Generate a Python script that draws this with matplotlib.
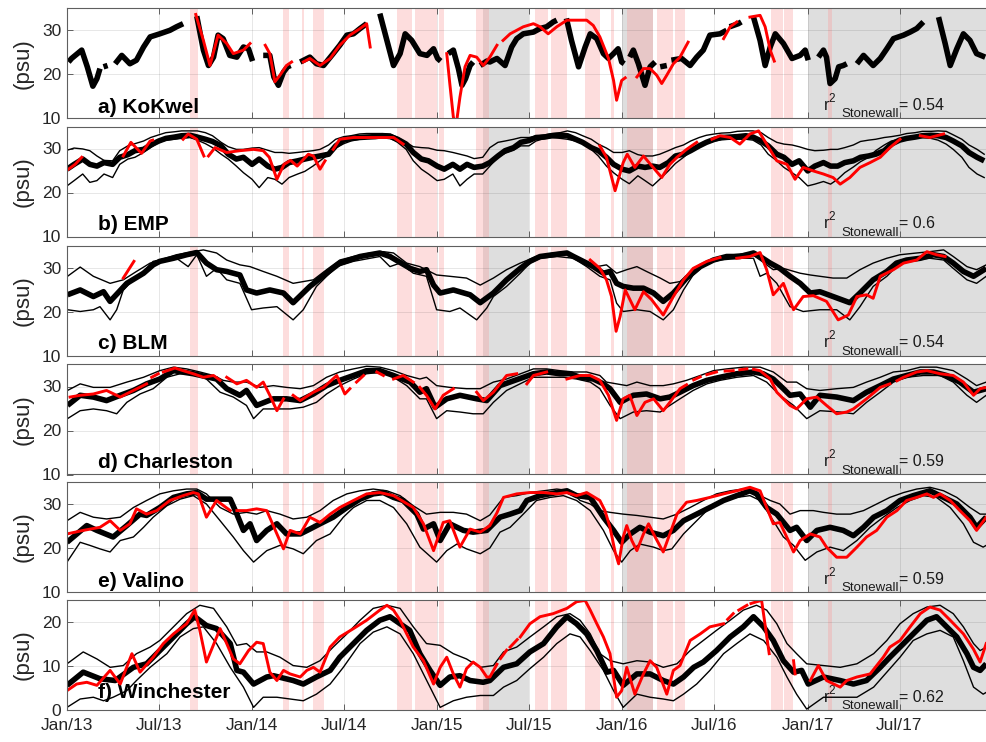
import numpy as np
import pandas as pd
import matplotlib
matplotlib.use("Agg")
import matplotlib.pyplot as plt

plt.rcParams['font.family'] = ['Liberation Sans', 'DejaVu Sans']

GAP = None
T0 = np.datetime64('2013-01-01')

# ---------------------------------------------------------------- shading
gray_periods = [('2015-04-01', '2015-07-01'), ('2016-01-01', '2016-03-01'),
                ('2017-01-01', '2018-01-01')]
pink_periods = [('2013-08-31', '2013-09-16'), ('2014-03-03', '2014-03-15'),
                ('2014-04-09', '2014-04-13'), ('2014-05-01', '2014-05-23'),
                ('2014-10-13', '2014-11-13'), ('2014-11-19', '2014-12-31'),
                ('2015-01-04', '2015-01-14'), ('2015-03-18', '2015-04-14'),
                ('2015-07-13', '2015-08-08'), ('2015-08-14', '2015-09-14'),
                ('2015-10-20', '2015-11-18'), ('2015-12-10', '2015-12-16'),
                ('2016-01-10', '2016-03-02'), ('2016-03-10', '2016-04-10'),
                ('2016-04-14', '2016-05-04'), ('2016-10-21', '2016-11-13'),
                ('2016-11-15', '2016-12-03'), ('2017-02-10', '2017-02-18')]

# ---------------------------------------------------------------- a) KoKwel  (day since 2013-01-01, psu)
kokwel_model = [
    (3, 22.8), (9, 23.6), (29, 25.5), (40, 21.7), (51, 17.3), (59, 19.0), (65, 21.3), GAP,
    (72, 21.7), (80, 22.0), GAP,
    (95, 22.4), (108, 24.3), (124, 22.4), (137, 23.2), (151, 26.2), (164, 28.5), (183, 29.2),
    (203, 30.0), (216, 30.8), (229, 31.5), GAP,
    (256, 33.2), (269, 25.5), (279, 22.0), (289, 23.9), (298, 28.9), (308, 28.1), (321, 24.3),
    (335, 23.9), (348, 26.2), (358, 25.8), (366, 23.0), GAP,
    (387, 24.3), (400, 24.3), (408, 19.4), (417, 17.5), (427, 20.5), (435, 21.7), (441, 22.0), GAP,
    (460, 22.8), (479, 23.9), (492, 22.4), (506, 22.0), (525, 24.7), (538, 26.6), (552, 28.9),
    (565, 29.2), (578, 30.4), (591, 31.5), GAP,
    (617, 33.8), (631, 27.7), (644, 22.0), (657, 24.7), (667, 29.2), (680, 27.7), (696, 24.7),
    (710, 24.3), (723, 25.8), (731, 23.6), (737, 23.0), GAP,
    (752, 24.7), (762, 25.5), (772, 21.3), (779, 17.5), (786, 19.0), (795, 22.0), (801, 22.8), GAP,
    (815, 22.0), (828, 23.0), (834, 22.8), (848, 23.6), (864, 22.0), (877, 26.2), (887, 28.1),
    (900, 29.2), (920, 29.6), (933, 30.4), (946, 30.8), (959, 31.9), (966, 32.3), GAP,
    (985, 32.7), (995, 27.7), (1009, 21.7), (1022, 26.2), (1032, 29.2), (1045, 28.1), (1058, 24.7),
    (1068, 23.6), (1078, 24.7), (1087, 25.8), (1094, 22.8), (1099, 22.4), GAP,
    (1110, 23.9), (1117, 25.5), (1127, 22.4), (1140, 17.5), (1150, 21.7), (1160, 22.8), GAP,
    (1170, 21.7), (1183, 22.0), GAP,
    (1192, 23.2), (1212, 23.6), (1229, 22.0), (1242, 23.9), (1255, 25.5), (1268, 28.9),
    (1288, 29.2), (1301, 30.0), GAP,
    (1307, 30.8), (1324, 31.5), (1330, 31.9), GAP,
    (1354, 33.0), (1367, 27.7), (1377, 22.0), (1387, 26.2), (1397, 29.2), (1413, 27.0),
    (1430, 23.6), (1446, 24.3), (1456, 25.5), (1462, 23.2), GAP,
    (1482, 23.9), (1492, 25.5), (1498, 23.9), (1505, 17.9), (1515, 19.0), (1522, 21.7),
    (1531, 22.0), (1538, 22.4), GAP,
    (1558, 22.4), (1571, 24.3), (1590, 22.0), (1604, 23.6), (1617, 25.8), (1630, 28.1),
    (1650, 28.9), (1663, 29.6), (1676, 30.4), (1689, 31.9), GAP,
    (1719, 33.0), (1732, 27.0), (1742, 22.0), (1755, 25.8), (1768, 29.2), (1781, 27.7),
    (1794, 24.7), (1811, 23.9)]
kokwel_obs = [
    (254, 33.6), (269, 27.7), (282, 22.0), (298, 28.9), (315, 27.0), (328, 24.7), (348, 25.5),
    (361, 27.0), GAP,
    (391, 26.6), (400, 24.7), (410, 18.3), (420, 19.8), (433, 22.0), (443, 22.8), GAP,
    (466, 22.8), (479, 23.6), (499, 22.0), (519, 23.6), (538, 26.6), (558, 28.9), (578, 30.4),
    (591, 31.5), (598, 26.2), GAP,
    (749, 24.7), (755, 17.9), (762, 10.3), (767, 8.0), (775, 14.8), (785, 21.7), (795, 24.3),
    (808, 23.9), (821, 22.0), (834, 23.9), (848, 26.6), GAP, (860, 27.7), (874, 29.2), (887, 30.0),
    (900, 30.8), (920, 31.5), (933, 30.8), (949, 29.2), (966, 30.8), (986, 32.3), (1005, 32.3),
    (1025, 32.3), (1038, 31.1), (1051, 28.5), (1068, 23.6), (1078, 18.6), (1084, 14.1),
    (1094, 18.6), (1101, 19.2), GAP,
    (1124, 19.4), (1137, 21.3), (1150, 21.3), (1163, 19.8), (1173, 17.9), (1183, 19.8),
    (1196, 22.4), (1209, 23.9), (1225, 27.3), GAP,
    (1295, 28.1), (1308, 30.8), (1321, 31.9), GAP,
    (1347, 33.0), (1367, 33.4), (1377, 30.8), (1387, 25.5), (1395, 23.0)]

# ---------------------------------------------------------------- b) EMP  (semi-monthly model output)
emp_mean = [
    25.3, 26.4, 27.6, 26.4, 26.0, 26.8, 26.4, 28.0, 28.6, 29.5, 29.8, 30.8,
    31.7, 32.3, 32.6, 32.9, 33.0, 32.6, 32.1, 31.6, 30.6, 28.7, 27.6, 28.0,
    26.4, 27.6, 26.0, 25.3, 25.7, 26.8, 27.2, 27.6, 28.0, 28.3, 28.7, 30.6,
    31.9, 32.3, 32.5, 32.6, 32.7, 32.9, 32.7, 32.1, 31.0, 29.1, 27.6, 27.2,
    26.0, 25.3, 26.4, 25.3, 26.4, 25.7, 26.0, 26.8, 28.3, 29.5, 30.2, 31.4,
    31.8, 32.5, 32.6, 32.9, 33.0, 32.9, 32.1, 31.4, 30.2, 29.5, 28.0, 26.4,
    25.3, 24.9, 26.0, 25.7, 26.0, 25.7, 26.8, 28.3, 28.7, 29.5, 30.6, 31.4,
    32.1, 32.5, 32.6, 32.7, 32.9, 32.6, 31.7, 30.6, 28.7, 28.0, 26.4, 27.2,
    24.9, 26.0, 26.8, 26.0, 26.0, 26.8, 27.2, 28.0, 28.3, 28.7, 29.5, 31.0,
    31.9, 32.3, 32.6, 32.9, 33.0, 32.9, 32.5, 31.7, 30.6, 29.1, 28.0, 27.2]
emp_upper = [
    29.6, 30.1, 29.9, 29.5, 28.3, 27.3, 27.2, 29.5, 30.6, 31.1, 31.7, 32.5,
    33.1, 33.6, 33.8, 34.0, 34.0, 34.0, 33.6, 32.9, 31.4, 30.4, 29.8, 29.8,
    30.1, 30.2, 29.6, 29.1, 29.1, 28.9, 29.1, 29.3, 29.5, 29.8, 30.8, 32.1,
    32.7, 32.9, 33.3, 33.4, 33.4, 33.4, 33.3, 32.5, 31.4, 30.4, 30.2, 30.1,
    29.6, 29.5, 29.1, 28.7, 28.3, 27.7, 28.0, 30.2, 31.4, 31.7, 32.1, 32.5,
    32.5, 32.8, 33.1, 33.4, 33.6, 34.0, 33.6, 32.9, 32.1, 31.0, 30.1, 29.1,
    29.1, 29.5, 28.6, 28.3, 28.3, 28.7, 29.5, 30.2, 30.8, 31.7, 32.5, 33.0,
    33.3, 33.5, 33.6, 33.9, 34.0, 34.0, 33.6, 32.5, 31.4, 31.0, 30.8, 30.4,
    29.8, 29.5, 29.6, 29.8, 29.8, 30.2, 30.8, 31.6, 31.9, 32.1, 32.5, 32.7,
    33.0, 33.4, 33.6, 33.9, 33.9, 34.0, 33.9, 33.1, 32.1, 30.8, 29.8, 28.7]
emp_lower = [
    21.5, 22.7, 24.2, 22.3, 22.7, 24.2, 23.4, 26.4, 27.6, 28.0, 29.1, 30.2,
    31.4, 31.9, 32.1, 32.3, 32.5, 31.9, 31.1, 30.2, 28.7, 27.6, 26.0, 24.5,
    23.0, 21.1, 23.4, 23.0, 21.9, 23.4, 24.2, 24.8, 26.0, 27.2, 28.7, 30.1,
    31.1, 31.7, 32.1, 32.3, 32.5, 32.5, 32.3, 31.4, 29.8, 27.2, 25.3, 24.2,
    22.7, 23.0, 24.2, 21.5, 23.0, 24.2, 24.2, 26.0, 28.1, 28.9, 29.6, 30.6,
    30.6, 31.7, 32.3, 32.5, 32.3, 32.1, 31.7, 31.1, 29.8, 28.3, 26.0, 24.5,
    23.0, 22.0, 23.8, 22.7, 21.5, 23.0, 24.9, 26.6, 28.0, 29.3, 30.4, 31.1,
    31.7, 32.0, 32.1, 32.1, 32.1, 31.9, 30.8, 28.7, 27.2, 25.7, 24.5, 23.4,
    21.5, 21.9, 22.5, 21.9, 23.0, 24.5, 25.8, 27.0, 28.0, 29.5, 30.8, 31.7,
    32.1, 32.3, 32.5, 32.5, 32.3, 31.9, 31.0, 29.8, 28.0, 25.7, 24.2, 23.4]
emp_obs = [
    (3, 25.3), (16, 26.4), (29, 28.0), GAP,
    (111, 28.3), (126, 31.4), (147, 28.9), (164, 31.7), (169, 31.9), GAP,
    (229, 32.1), (239, 33.3), (256, 32.1), (270, 28.3), GAP,
    (279, 28.3), (292, 30.2), (315, 29.1), (341, 29.5), (368, 29.8), (387, 29.5), (399, 28.0),
    (414, 23.0), (428, 26.4), (441, 27.3), (454, 26.0), (476, 28.7), (486, 28.3), (499, 25.3),
    (509, 27.2), GAP,
    (525, 29.8), (538, 32.1), (565, 32.5), (591, 32.5), (617, 32.5), (644, 32.5), (663, 31.0), GAP,
    (1051, 30.6), (1064, 28.0), (1081, 20.4), (1097, 26.8), (1105, 28.7), (1120, 25.7),
    (1137, 28.3), (1153, 26.1), (1173, 23.4), (1189, 26.4), (1203, 28.0), (1222, 29.8),
    (1242, 31.4), GAP,
    (1272, 32.1), (1288, 32.9), (1308, 32.5), (1327, 31.0), (1347, 33.3), (1364, 34.0),
    (1380, 31.0), (1400, 27.2), (1420, 26.4), (1436, 23.0), (1452, 25.7), (1472, 24.9),
    (1492, 24.2), (1511, 23.4), (1525, 21.9), (1544, 23.4), (1564, 25.7), (1584, 26.8),
    (1604, 28.0), (1623, 30.2), (1643, 32.1), GAP,
    (1683, 32.9), (1702, 32.5), (1729, 33.3)]

# ---------------------------------------------------------------- c) BLM
blm_mean = [
    (1, 23.8), (26, 24.9), (52, 23.4), (72, 24.5), (85, 22.3), (118, 26.4), (151, 28.7),
    (170, 30.6), (183, 31.4), (210, 32.1), (236, 32.9), (256, 33.4), (275, 31.0), (295, 29.5),
    (315, 29.1), (341, 28.3), (354, 24.9), (374, 24.2), (400, 24.9), (427, 24.2), (446, 22.0),
    (479, 25.7), (512, 28.7), (538, 31.0), (578, 32.5), (617, 33.3), (637, 32.5), (677, 29.8),
    (696, 29.1), (709, 29.5), (723, 26.0), (736, 24.2), (762, 24.9), (795, 23.8), (815, 22.0),
    (841, 24.2), (867, 27.2), (894, 29.8), (913, 31.4), (933, 32.5), (959, 32.9), (986, 33.3),
    (999, 32.5), (1018, 31.4), (1038, 30.2), (1058, 28.7), (1071, 29.1), (1084, 26.4),
    (1097, 25.7), (1117, 25.3), (1137, 25.3), (1157, 24.2), (1176, 22.3), (1196, 24.2),
    (1222, 27.6), (1249, 30.2), (1275, 31.7), (1301, 32.5), (1327, 32.5), (1354, 33.3),
    (1367, 32.5), (1387, 31.0), (1406, 29.8), (1426, 28.0), (1446, 26.4), (1466, 24.2),
    (1485, 24.5), (1511, 23.4), (1544, 22.0), (1564, 24.2), (1590, 27.2), (1617, 29.1),
    (1636, 31.0), (1656, 31.7), (1683, 32.1), (1709, 32.9), (1729, 32.5), (1748, 31.0),
    (1768, 29.1), (1788, 28.0), (1813, 29.8)]
blm_upper = [
    (1, 28.0), (26, 30.1), (52, 28.0), (85, 26.4), (111, 27.2), (137, 29.1), (164, 31.0),
    (183, 31.7), (216, 32.9), (249, 33.6), (269, 34.0), (295, 33.3), (315, 31.7), (341, 30.6),
    (361, 30.2), (387, 29.1), (414, 28.0), (446, 26.4), (486, 27.2), (512, 29.5), (538, 31.7),
    (565, 32.5), (598, 33.3), (624, 33.6), (644, 33.3), (670, 31.0), (696, 30.2), (729, 28.3),
    (755, 28.0), (788, 27.6), (815, 26.0), (841, 27.6), (867, 29.5), (894, 31.0), (926, 32.5),
    (959, 33.3), (986, 33.6), (1005, 32.5), (1025, 31.4), (1045, 30.2), (1064, 30.6),
    (1084, 28.7), (1104, 29.5), (1124, 30.2), (1143, 29.1), (1170, 27.6), (1189, 26.4),
    (1209, 26.8), (1235, 29.5), (1262, 31.4), (1288, 32.1), (1314, 32.9), (1347, 33.3),
    (1367, 31.7), (1393, 29.5), (1413, 29.8), (1446, 28.7), (1466, 28.3), (1485, 28.0),
    (1511, 27.6), (1538, 27.6), (1564, 29.5), (1590, 31.0), (1617, 32.1), (1643, 32.9),
    (1676, 33.3), (1702, 33.6), (1729, 34.0), (1748, 32.5), (1775, 30.2), (1794, 29.5),
    (1813, 30.6)]
blm_lower = [
    (1, 20.4), (26, 20.0), (52, 20.4), (65, 21.1), (85, 18.1), (98, 20.4), (111, 24.9),
    (131, 27.2), (157, 29.8), (170, 31.4), (183, 31.7), (216, 32.1), (239, 30.2), (256, 32.9),
    (275, 28.0), (295, 29.8), (315, 27.2), (341, 26.4), (364, 20.4), (387, 20.8), (414, 21.1),
    (446, 18.1), (466, 20.4), (492, 25.7), (512, 28.0), (532, 30.2), (565, 31.4), (598, 32.1),
    (617, 32.5), (637, 30.2), (657, 31.0), (683, 28.7), (709, 28.0), (729, 20.4), (755, 20.0),
    (775, 20.8), (808, 18.1), (828, 20.8), (841, 23.4), (867, 25.7), (894, 28.7), (913, 31.0),
    (933, 32.1), (966, 32.5), (999, 32.1), (1025, 30.2), (1051, 28.0), (1071, 27.2),
    (1084, 21.9), (1097, 20.0), (1124, 20.4), (1150, 20.0), (1176, 18.1), (1196, 20.4),
    (1216, 24.9), (1235, 28.3), (1262, 31.0), (1288, 31.7), (1327, 32.1), (1354, 32.1),
    (1367, 28.0), (1380, 28.7), (1400, 26.4), (1426, 21.1), (1452, 20.0), (1485, 20.4),
    (1518, 20.4), (1544, 18.1), (1564, 21.1), (1590, 25.7), (1617, 28.0), (1643, 31.0),
    (1669, 31.7), (1702, 32.1), (1729, 31.7), (1748, 29.8), (1775, 27.2), (1794, 26.4),
    (1813, 28.0)]
blm_obs = [
    (111, 27.6), (132, 31.4), GAP,
    (1032, 31.7), (1051, 29.8), (1064, 27.2), (1074, 23.4), (1083, 15.5), (1091, 18.9),
    (1101, 24.9), (1120, 20.4), (1137, 24.5), (1153, 22.7), (1176, 19.2), (1196, 23.4),
    (1216, 27.2), (1235, 29.8), (1262, 31.4), (1288, 32.3), GAP,
    (1321, 32.1), (1347, 32.5), (1367, 33.4), (1380, 29.5), (1393, 23.8), (1413, 26.4),
    (1433, 20.4), (1452, 23.4), (1472, 23.6), (1498, 22.3), (1521, 18.1), (1541, 19.2),
    (1558, 23.4), (1577, 23.8), (1590, 23.0), (1604, 28.0), (1630, 29.5), (1650, 31.0),
    (1676, 31.7), (1696, 33.6), (1715, 32.9), (1732, 32.5)]

# ---------------------------------------------------------------- d) Charleston
charleston_mean = [
    (1, 25.7), (26, 28.0), (52, 27.6), (78, 26.8), (105, 28.0), (131, 29.1), (157, 30.6),
    (183, 31.7), (210, 33.6), (249, 32.9), (295, 31.7), (315, 29.5), (341, 28.0), (354, 29.1),
    (374, 25.7), (407, 27.2), (433, 27.2), (460, 26.8), (486, 28.3), (512, 30.2), (538, 31.4),
    (565, 32.5), (591, 33.6), (617, 33.6), (644, 32.5), (677, 31.0), (696, 28.7), (709, 29.5),
    (726, 25.3), (749, 27.2), (775, 28.0), (808, 27.2), (828, 26.8), (854, 30.2), (920, 32.9),
    (946, 33.3), (972, 32.9), (992, 32.9), (1012, 32.1), (1038, 31.7), (1058, 30.6),
    (1071, 29.5), (1091, 26.4), (1104, 27.2), (1117, 28.0), (1143, 28.3), (1170, 27.2),
    (1189, 27.6), (1209, 28.7), (1235, 30.2), (1262, 31.4), (1288, 32.1), (1321, 32.9),
    (1354, 33.3), (1373, 32.9), (1393, 31.7), (1413, 29.5), (1426, 28.0), (1446, 28.3),
    (1466, 25.3), (1485, 28.0), (1518, 27.6), (1551, 26.8), (1577, 28.7), (1604, 30.2),
    (1630, 31.7), (1656, 32.5), (1683, 33.3), (1709, 33.3), (1735, 32.5), (1761, 31.0),
    (1788, 28.7), (1813, 29.5)]
charleston_upper = [
    (1, 29.1), (26, 30.6), (52, 29.8), (85, 29.8), (118, 31.0), (151, 32.1), (183, 33.6),
    (210, 34.4), (236, 34.0), (262, 33.3), (289, 32.5), (308, 31.4), (328, 31.0), (354, 31.0),
    (381, 29.8), (407, 30.2), (433, 29.8), (460, 29.5), (486, 30.2), (512, 32.1), (538, 33.3),
    (565, 34.0), (591, 34.6), (617, 34.4), (644, 33.6), (670, 32.5), (696, 31.7), (709, 32.1),
    (729, 30.2), (755, 29.8), (788, 29.5), (815, 29.5), (841, 31.0), (867, 31.7), (920, 34.0),
    (946, 34.0), (972, 33.6), (999, 33.3), (1025, 33.3), (1051, 32.5), (1064, 31.0),
    (1084, 30.6), (1104, 30.2), (1124, 31.0), (1150, 30.2), (1176, 30.2), (1196, 30.6),
    (1222, 31.4), (1249, 32.5), (1275, 33.6), (1301, 34.0), (1334, 34.4), (1367, 34.4),
    (1393, 33.3), (1420, 31.0), (1439, 31.0), (1459, 29.5), (1485, 29.1), (1518, 29.5),
    (1551, 29.8), (1577, 31.0), (1604, 32.1), (1630, 33.3), (1656, 33.6), (1683, 34.4),
    (1715, 34.4), (1748, 33.6), (1775, 31.7), (1794, 30.2), (1813, 31.0)]
charleston_lower = [
    (1, 22.7), (26, 24.5), (52, 24.9), (78, 24.5), (98, 23.8), (118, 26.4), (144, 28.3),
    (170, 29.5), (197, 32.1), (223, 32.9), (249, 32.9), (275, 31.7), (302, 28.7), (328, 27.6),
    (354, 25.7), (368, 22.7), (387, 24.9), (414, 24.9), (440, 24.9), (466, 25.3), (492, 26.4),
    (512, 28.3), (538, 30.2), (565, 31.7), (591, 32.9), (624, 33.3), (644, 32.1), (670, 30.2),
    (696, 27.2), (709, 27.2), (729, 22.7), (749, 24.5), (775, 24.2), (801, 23.8), (821, 23.8),
    (841, 26.4), (867, 29.1), (920, 32.1), (946, 32.1), (979, 32.1), (1005, 31.7), (1032, 31.0),
    (1051, 29.5), (1071, 25.7), (1091, 22.7), (1117, 24.2), (1143, 24.5), (1170, 24.2),
    (1189, 25.7), (1209, 27.2), (1235, 29.1), (1262, 30.6), (1288, 31.4), (1321, 32.1),
    (1354, 32.5), (1380, 31.0), (1406, 28.0), (1433, 25.7), (1459, 22.7), (1485, 24.5),
    (1525, 24.2), (1551, 23.8), (1577, 26.4), (1604, 28.7), (1630, 31.0), (1656, 32.1),
    (1689, 32.5), (1722, 32.5), (1748, 31.0), (1775, 28.0), (1794, 26.4), (1813, 28.0)]
charleston_obs = [
    (6, 27.6), (26, 28.0), (52, 28.3), (78, 29.1), (105, 27.6), (131, 29.1), (157, 30.6), GAP,
    (167, 32.1), (180, 32.9), GAP,
    (190, 33.3), (213, 34.2), (229, 33.6), (249, 32.9), (269, 32.1), (289, 32.5), (302, 31.4), GAP,
    (315, 32.1), (335, 30.6), (354, 31.4), (374, 29.8), (387, 31.0), (400, 28.0), (414, 24.5),
    (427, 27.2), GAP,
    (446, 28.0), (460, 26.8), (486, 28.7), (506, 29.8), (532, 32.5), (548, 28.3), (558, 29.5), GAP,
    (571, 31.0), (585, 32.5), GAP,
    (611, 33.3), (624, 32.5), GAP,
    (644, 31.7), (663, 32.5), (683, 31.0), GAP,
    (696, 29.8), (709, 28.0), (726, 24.9), (742, 28.0), (762, 29.5), GAP,
    (808, 28.7), (821, 26.8), (841, 28.7), (867, 32.5), (887, 32.9), GAP,
    (907, 30.6), (920, 32.5), (946, 33.3), GAP,
    (986, 31.7), (1012, 32.5), (1032, 32.5), (1051, 31.4), (1068, 28.0), (1084, 22.3),
    (1097, 27.2), (1110, 28.0), (1124, 23.4), (1140, 26.4), (1157, 27.2), (1176, 24.5),
    (1189, 26.4), (1209, 29.5), (1222, 30.4), GAP,
    (1236, 31.5), (1249, 32.2), GAP,
    (1262, 32.7), (1281, 33.3), GAP,
    (1298, 33.5), (1314, 33.6), GAP,
    (1327, 33.8), (1341, 34.0), GAP,
    (1354, 33.9), (1367, 33.6), (1387, 31.7), (1400, 28.7), (1413, 27.2),
    (1426, 25.7), (1439, 24.9), (1459, 27.2), (1479, 27.6), (1498, 25.7), (1518, 23.8),
    (1538, 24.2), (1551, 24.9), (1577, 27.2), (1604, 29.8), (1623, 30.6), GAP,
    (1637, 31.3), (1650, 32.1), (1676, 33.3), (1696, 33.6), (1722, 32.9), (1748, 32.5),
    (1768, 31.0), (1788, 28.0), (1801, 29.5), (1813, 29.8)]

# ---------------------------------------------------------------- e) Valino
valino_mean = [
    (0, 21.3), (39, 25.1), (59, 24.0), (91, 22.5), (118, 25.1), (144, 27.7), (157, 27.4),
    (183, 29.2), (210, 31.5), (236, 32.3), (256, 32.6), (275, 31.1), (302, 31.1), (322, 31.1),
    (335, 27.7), (348, 24.0), (361, 25.5), (374, 21.7), (394, 24.0), (414, 25.5), (433, 23.2),
    (460, 23.2), (479, 24.3), (499, 25.5), (525, 27.0), (552, 29.2), (578, 31.1), (604, 32.3),
    (624, 32.6), (644, 31.5), (663, 30.8), (690, 27.7), (703, 24.3), (723, 25.5), (736, 21.7),
    (755, 25.5), (782, 24.0), (801, 23.6), (828, 24.0), (854, 27.0), (874, 27.7), (894, 28.5),
    (907, 30.8), (933, 31.9), (966, 32.6), (986, 33.0), (1005, 31.9), (1032, 31.5),
    (1058, 27.0), (1078, 24.0), (1094, 21.3), (1111, 23.2), (1130, 24.7), (1150, 23.6),
    (1176, 22.8), (1196, 24.0), (1216, 26.2), (1242, 27.7), (1268, 29.2), (1295, 30.8),
    (1321, 31.9), (1347, 33.0), (1360, 32.3), (1380, 29.2), (1400, 27.7), (1426, 24.0),
    (1439, 24.7), (1459, 21.7), (1479, 24.0), (1505, 24.7), (1531, 24.0), (1551, 22.8),
    (1571, 24.7), (1591, 27.0), (1617, 28.5), (1643, 30.8), (1669, 31.9), (1702, 33.0),
    (1729, 31.5), (1755, 30.0), (1781, 27.0), (1794, 24.7), (1813, 27.0)]
valino_upper = [
    (0, 26.2), (26, 28.1), (52, 27.0), (78, 26.6), (105, 27.0), (131, 29.2), (157, 30.8),
    (183, 32.3), (210, 33.0), (236, 33.4), (256, 33.4), (275, 32.3), (302, 29.2), (328, 27.7),
    (354, 28.1), (374, 27.7), (394, 28.5), (420, 27.7), (446, 26.6), (473, 27.0), (499, 28.5),
    (525, 30.8), (552, 32.3), (578, 33.0), (604, 33.4), (631, 33.0), (657, 31.9), (683, 29.6),
    (709, 27.7), (736, 28.1), (762, 28.1), (788, 27.7), (815, 26.2), (834, 27.5), (861, 31.5),
    (887, 31.9), (913, 32.6), (940, 33.0), (966, 33.4), (992, 33.0), (1012, 30.8), (1032, 30.0),
    (1051, 28.5), (1071, 28.1), (1097, 27.7), (1124, 27.4), (1150, 27.0), (1176, 26.6),
    (1203, 27.7), (1229, 29.2), (1255, 30.8), (1281, 32.3), (1308, 33.0), (1334, 33.4),
    (1360, 32.3), (1387, 30.8), (1406, 30.0), (1426, 27.7), (1446, 28.5), (1472, 28.5),
    (1492, 28.1), (1518, 27.7), (1545, 27.7), (1571, 28.5), (1597, 30.0), (1623, 31.5),
    (1650, 32.6), (1676, 33.4), (1702, 33.8), (1729, 33.0), (1755, 31.5), (1781, 29.2),
    (1801, 27.7), (1813, 27.7)]
valino_lower = [
    (0, 16.8), (26, 21.3), (45, 20.6), (65, 19.8), (85, 19.1), (105, 21.7), (131, 22.5),
    (151, 24.7), (170, 27.0), (197, 29.6), (223, 31.1), (249, 31.9), (275, 30.0), (302, 26.2),
    (328, 22.5), (348, 19.4), (368, 16.8), (394, 19.4), (420, 20.6), (446, 19.8), (466, 18.7),
    (492, 21.7), (519, 23.2), (545, 27.0), (565, 29.2), (591, 30.8), (617, 30.8), (644, 29.2),
    (670, 25.5), (696, 20.2), (729, 16.8), (749, 19.4), (769, 20.9), (788, 19.8), (815, 18.7),
    (834, 20.0), (854, 23.6), (874, 24.7), (900, 27.7), (926, 30.8), (953, 31.5), (979, 31.9),
    (1005, 30.8), (1032, 28.5), (1058, 24.0), (1078, 19.4), (1094, 16.8), (1111, 19.4),
    (1130, 20.9), (1157, 20.2), (1176, 19.4), (1193, 19.8), (1216, 23.2), (1242, 26.2),
    (1268, 29.2), (1295, 30.8), (1321, 31.5), (1347, 31.9), (1367, 30.8), (1393, 26.2),
    (1413, 22.5), (1433, 20.6), (1456, 17.2), (1479, 19.1), (1505, 20.2), (1531, 19.4),
    (1558, 21.7), (1584, 24.7), (1610, 27.0), (1637, 29.2), (1663, 30.8), (1689, 31.9),
    (1715, 31.5), (1742, 29.2), (1768, 25.5), (1788, 21.3), (1807, 20.2), (1813, 20.6)]
valino_obs = [
    (0, 23.2), (32, 24.0), (65, 24.7), (85, 26.2), (105, 24.0), (124, 25.5), (137, 28.9),
    (157, 27.7), (177, 28.5), (203, 30.8), (229, 31.9), (249, 32.6), (259, 32.3), (275, 27.0),
    (295, 30.8), (322, 28.5), GAP, (335, 28.5), (354, 28.5), (374, 28.9), (394, 28.5),
    (414, 23.2), (427, 19.8), (440, 24.0), (460, 23.2), (479, 27.0), (499, 25.8), (519, 27.7),
    (538, 29.2), (565, 30.8), (591, 32.3), (617, 32.6), (644, 31.9), (683, 29.2), (703, 25.5),
    (723, 19.4), (742, 25.8), (755, 26.2), (775, 20.2), (795, 24.3), (815, 23.6), (834, 25.1),
    (848, 28.0), (861, 31.5), (887, 32.3), (913, 32.6), (940, 32.6), (966, 32.3), (986, 32.6),
    (1005, 31.9), (1025, 32.6), (1051, 30.8), (1061, 28.5), (1071, 24.7), (1081, 19.1),
    (1088, 16.4), (1097, 22.5), (1104, 25.1), (1114, 21.7), (1124, 19.4), (1137, 23.2),
    (1147, 25.5), (1160, 22.5), (1176, 19.1), (1189, 23.2), (1203, 27.7), (1222, 30.4),
    (1242, 30.8), (1268, 31.5), (1295, 32.3), (1321, 33.0), (1347, 33.8), (1367, 33.0),
    (1380, 29.2), (1393, 25.5), (1406, 25.8), (1426, 20.9), (1433, 19.1), (1446, 21.7),
    (1466, 23.2), (1485, 22.5), (1498, 20.2), (1518, 17.9), (1538, 17.9), (1558, 20.2),
    (1577, 22.5), (1597, 24.0), (1617, 27.0), (1637, 28.5), (1656, 30.8), (1676, 31.5),
    (1696, 32.3), (1709, 31.5), (1722, 32.3), (1742, 30.8), (1761, 28.5), (1781, 26.2),
    (1794, 24.0), (1813, 27.0)]

# ---------------------------------------------------------------- f) Winchester
winchester_mean = [
    (0, 5.6), (32, 8.6), (65, 7.1), (95, 6.7), (131, 9.7), (157, 10.5), (183, 13.5),
    (210, 16.6), (236, 19.6), (252, 21.2), (275, 19.2), (295, 18.5), (322, 15.1), (335, 9.0),
    (348, 8.6), (368, 5.9), (394, 7.5), (407, 7.8), (446, 6.7), (466, 5.9), (492, 7.5),
    (519, 9.0), (538, 12.0), (565, 15.1), (591, 18.1), (617, 20.4), (637, 21.2), (657, 19.6),
    (676, 18.1), (696, 12.8), (716, 9.0), (736, 5.6), (755, 7.5), (775, 7.8), (795, 6.7),
    (821, 6.3), (834, 6.7), (861, 9.7), (887, 10.5), (913, 13.2), (940, 15.1), (966, 18.9),
    (986, 21.2), (1005, 19.6), (1025, 17.3), (1045, 13.5), (1065, 8.6), (1078, 9.0),
    (1097, 5.6), (1124, 8.2), (1150, 8.2), (1176, 6.7), (1196, 5.9), (1216, 7.5), (1236, 9.7),
    (1255, 10.9), (1281, 13.5), (1308, 16.6), (1334, 18.9), (1354, 21.2), (1374, 18.9),
    (1393, 15.8), (1413, 11.2), (1433, 8.6), (1449, 9.0), (1462, 5.9), (1492, 7.5),
    (1525, 6.7), (1551, 5.9), (1577, 6.7), (1604, 9.7), (1623, 12.0), (1650, 15.1),
    (1676, 18.1), (1696, 20.4), (1715, 21.2), (1735, 18.9), (1755, 16.6), (1775, 12.8),
    (1788, 9.7), (1801, 9.0), (1813, 10.5)]
winchester_upper = [
    (0, 10.5), (32, 13.2), (59, 11.6), (85, 9.7), (111, 10.1), (137, 12.8), (164, 14.3),
    (183, 15.8), (210, 18.9), (236, 21.9), (262, 23.8), (289, 23.1), (315, 18.9), (335, 14.7),
    (354, 15.1), (374, 13.2), (394, 13.2), (420, 12.0), (446, 10.1), (473, 9.7), (499, 11.2),
    (525, 14.3), (552, 17.3), (578, 20.4), (604, 23.1), (631, 23.8), (657, 23.1), (683, 18.9),
    (709, 15.1), (736, 14.7), (762, 12.8), (788, 11.6), (815, 9.7), (841, 10.1), (861, 13.2),
    (887, 14.3), (913, 16.6), (940, 18.9), (966, 21.2), (992, 21.9), (1012, 20.4),
    (1032, 17.3), (1051, 12.8), (1071, 11.2), (1097, 10.5), (1124, 11.2), (1150, 10.9),
    (1176, 9.7), (1203, 10.5), (1229, 13.5), (1255, 15.8), (1281, 18.1), (1308, 20.4),
    (1334, 22.7), (1360, 23.8), (1380, 22.7), (1400, 19.6), (1420, 15.1), (1439, 12.8),
    (1459, 10.5), (1492, 10.1), (1525, 9.7), (1558, 10.5), (1591, 12.8), (1617, 15.8),
    (1643, 19.6), (1669, 21.9), (1696, 23.4), (1722, 23.8), (1748, 21.9), (1768, 18.9),
    (1788, 15.1), (1801, 13.5), (1813, 14.3)]
winchester_lower = [
    (0, 0.6), (26, 2.5), (52, 2.9), (72, 2.1), (91, 2.9), (118, 4.4), (137, 6.7), (164, 9.7),
    (197, 12.8), (223, 16.6), (249, 18.5), (269, 18.9), (295, 15.1), (322, 9.7), (348, 5.2),
    (368, 0.6), (387, 2.9), (414, 2.9), (440, 2.5), (466, 2.1), (492, 3.6), (519, 5.9),
    (545, 9.7), (578, 15.1), (604, 17.7), (631, 18.9), (657, 17.3), (683, 12.8), (716, 5.2),
    (736, 0.6), (762, 2.1), (788, 2.9), (815, 3.3), (841, 3.3), (861, 5.2), (887, 6.7),
    (913, 9.4), (940, 12.0), (966, 15.1), (992, 17.3), (1012, 16.6), (1032, 13.5), (1058, 9.0),
    (1078, 4.4), (1097, 0.6), (1124, 3.6), (1150, 2.9), (1176, 2.5), (1196, 2.1), (1216, 3.6),
    (1242, 5.9), (1268, 9.0), (1295, 12.8), (1321, 15.1), (1347, 17.3), (1374, 15.8),
    (1400, 12.0), (1420, 7.5), (1439, 3.6), (1459, 0.2), (1492, 2.9), (1525, 2.9), (1558, 2.9),
    (1591, 5.2), (1617, 8.6), (1643, 12.0), (1669, 15.8), (1696, 17.3), (1722, 18.1),
    (1748, 16.6), (1768, 11.2), (1788, 5.2), (1807, 3.6), (1813, 4.0)]
winchester_obs = [
    (0, 4.4), (19, 5.9), (39, 6.3), (59, 5.6), (85, 9.0), (105, 5.9), (128, 12.8), (144, 8.6),
    (170, 12.0), (190, 15.1), (210, 17.3), (236, 19.6), (252, 22.7), (262, 18.1), (275, 10.9),
    (302, 18.5), (315, 15.1), (328, 11.6), (341, 10.5), (358, 13.5), (374, 15.4), (387, 15.1),
    (400, 8.6), (414, 6.7), (427, 9.0), (440, 8.2), (460, 7.5), (473, 9.0), (486, 9.7),
    (499, 8.6), (519, 14.3), (538, 16.6), (565, 18.5), (591, 20.4), (617, 22.7), (631, 23.8),
    (644, 22.7), (657, 20.4), (670, 17.3), (683, 14.3), (703, 11.2), (723, 5.9), (736, 9.7),
    (749, 12.0), (762, 8.2), (775, 5.2), (788, 9.4), (801, 10.9), (815, 9.7), (828, 7.5),
    (834, 7.5), (848, 10.4), GAP, (855, 11.7), (867, 13.6), GAP, (874, 14.3), (888, 16.0), GAP,
    (894, 16.6), (913, 19.6), (933, 21.2), (959, 21.9),
    (986, 23.1), (1005, 24.6), (1022, 24.9), (1032, 22.7), (1045, 19.6), (1058, 16.6),
    (1071, 12.8), (1084, 2.9), (1094, 4.4), (1104, 9.7), (1120, 3.6), (1137, 8.2), (1150, 11.2),
    (1163, 9.7), (1183, 3.6), (1196, 9.0), (1209, 10.1), (1229, 15.8), (1249, 17.3),
    (1268, 18.9), (1295, 19.6), GAP, (1303, 20.6), (1314, 21.9), GAP, (1325, 22.7), (1341, 23.8),
    GAP, (1349, 24.2), (1360, 24.6), (1370, 24.9),
    (1385, 12.8), GAP,
    (1433, 11.2), (1436, 8.2), GAP,
    (1466, 6.7), (1482, 10.1), (1498, 6.7), (1525, 5.2), (1538, 6.7), (1558, 7.5), (1584, 8.2),
    (1610, 12.0), (1623, 14.3), (1643, 15.8), (1663, 18.9), (1683, 21.9), (1702, 23.4),
    (1722, 22.7), (1742, 20.4), (1768, 17.3), (1788, 13.8), (1801, 10.9), (1813, 15.1)]

panel_labels = ['a) KoKwel', 'b) EMP', 'c) BLM', 'd) Charleston', 'e) Valino', 'f) Winchester']
r2_values = ['0.54', '0.6', '0.54', '0.59', '0.59', '0.62']
tick_dates = ['2013-01-01', '2013-07-01', '2014-01-01', '2014-07-01', '2015-01-01',
              '2015-07-01', '2016-01-01', '2016-07-01', '2017-01-01', '2017-07-01']
tick_labels = ['Jan/13', 'Jul/13', 'Jan/14', 'Jul/14', 'Jan/15',
               'Jul/15', 'Jan/16', 'Jul/16', 'Jan/17', 'Jul/17']


def to_series(points):
    days, vals = [], []
    for p in points:
        if p is None:
            days.append(days[-1])
            vals.append(np.nan)
        else:
            days.append(p[0])
            vals.append(p[1])
    return T0 + np.array(days).astype('timedelta64[D]'), np.array(vals, dtype=float)


half_month = pd.date_range('2013-01-01', periods=len(emp_mean), freq='SMS').values

# model (mean, upper, lower) and observations for each panel
panels = [
    dict(model=to_series(kokwel_model), env=None, obs=to_series(kokwel_obs), ylim=(10, 35)),
    dict(model=(half_month, np.array(emp_mean)),
         env=[(half_month, np.array(emp_upper)), (half_month, np.array(emp_lower))],
         obs=to_series(emp_obs), ylim=(10, 35)),
    dict(model=to_series(blm_mean), env=[to_series(blm_upper), to_series(blm_lower)],
         obs=to_series(blm_obs), ylim=(10, 35)),
    dict(model=to_series(charleston_mean),
         env=[to_series(charleston_upper), to_series(charleston_lower)],
         obs=to_series(charleston_obs), ylim=(10, 35)),
    dict(model=to_series(valino_mean), env=[to_series(valino_upper), to_series(valino_lower)],
         obs=to_series(valino_obs), ylim=(10, 35)),
    dict(model=to_series(winchester_mean),
         env=[to_series(winchester_upper), to_series(winchester_lower)],
         obs=to_series(winchester_obs), ylim=(0, 25)),
]

W, H = 986, 742
fig = plt.figure(figsize=(W / 100, H / 100), dpi=100)
tops = [8.3, 126.5, 245.5, 364.5, 482.0, 600.0]
ax_h = 110.0
left_px, width_px = 67.0, 925.8
label_y = [0.05, 0.055, 0.055, 0.055, 0.045, 0.11]

xmin, xmax = np.datetime64('2013-01-01'), np.datetime64('2018-01-01')
spine_col = '#5f5f5f'
text_col = '#262626'

for k, p in enumerate(panels):
    ax = fig.add_axes([left_px / W, 1 - (tops[k] + ax_h) / H, width_px / W, ax_h / H])
    for a, b in gray_periods:
        ax.axvspan(np.datetime64(a), np.datetime64(b), color='#dedede', lw=0, zorder=0.5)
    for a, b in pink_periods:
        ax.axvspan(np.datetime64(a), np.datetime64(b), color=(0.98, 0.6, 0.6), alpha=0.33,
                   lw=0, zorder=0.6)

    if p['env'] is not None:
        for t, v in p['env']:
            ax.plot(t, v, color='black', lw=1.0, zorder=2)
    t, v = p['model']
    ax.plot(t, v, color='black', lw=4.0, zorder=2.2, solid_capstyle='butt')
    t, v = p['obs']
    ax.plot(t, v, color='#ff0000', lw=2.1, zorder=2.5)

    ax.set_xlim(xmin, xmax)
    ax.set_ylim(*p['ylim'])
    lo = p['ylim'][0]
    ax.set_yticks([lo, lo + 10, lo + 20])
    ax.set_xticks([np.datetime64(d) for d in tick_dates])
    if k == len(panels) - 1:
        ax.set_xticklabels(tick_labels)
    else:
        ax.set_xticklabels([])
    ax.grid(True, color='#262626', alpha=0.13, lw=0.6)
    ax.tick_params(direction='in', length=4, width=0.7, color=spine_col, top=True,
                   right=True, labelsize=12.5, labelcolor=text_col)
    ax.tick_params(axis='x', pad=6)
    ax.tick_params(axis='y', pad=4)
    for s in ax.spines.values():
        s.set_color(spine_col)
        s.set_linewidth(0.8)
    ax.set_ylabel('(psu)', fontsize=16, color=text_col)
    ax.yaxis.set_label_coords(-0.036, 0.5)

    ax.text(0.033, label_y[k], panel_labels[k], transform=ax.transAxes, fontsize=15,
            fontweight='bold', color='black', ha='left', va='baseline', zorder=1.8)
    kw = dict(transform=ax.transAxes, color='#1a1a1a', ha='left', va='baseline', zorder=1.8)
    ax.text(0.817, 0.073, 'r', fontsize=11.5, **kw)
    ax.text(0.8225, 0.148, '2', fontsize=8.5, **kw)
    ax.text(0.836, 0.008, 'Stonewall', fontsize=9.5, **kw)
    ax.text(0.899, 0.073, '= ' + r2_values[k], fontsize=11.5, **kw)

fig.savefig('out.png', dpi=100)
